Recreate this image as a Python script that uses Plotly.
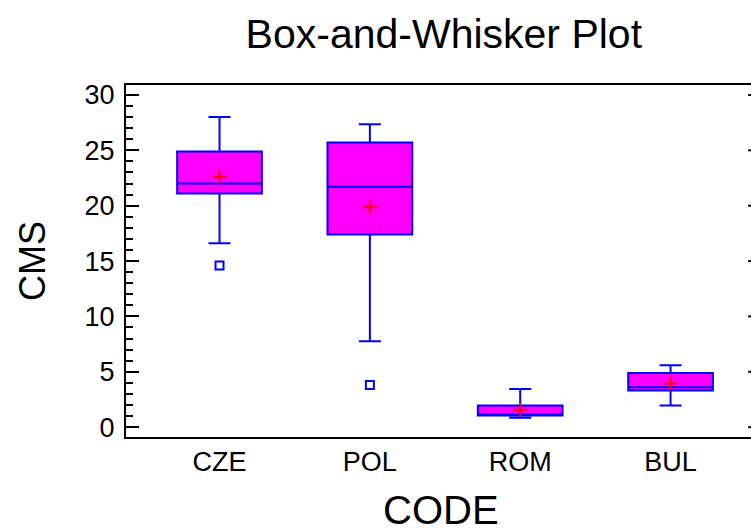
import plotly.graph_objects as go

# Summary statistics of CMS by country code
codes = ["CZE", "POL", "ROM", "BUL"]
q1 = [21.1, 17.4, 1.05, 3.32]
median = [22.0, 21.7, 1.12, 3.6]
q3 = [24.9, 25.7, 1.95, 4.88]
lower_whisker = [16.6, 7.75, 0.85, 1.96]
upper_whisker = [28.0, 27.35, 3.44, 5.58]
means = [22.6, 19.85, 1.57, 3.95]

# Points beyond the whiskers
outlier_codes = ["CZE", "POL"]
outlier_values = [14.6, 3.8]

y_major = [0, 5, 10, 15, 20, 25, 30]

FONT = "Liberation Sans, Arial, sans-serif"

fig = go.Figure()

fig.add_trace(go.Box(
    x=codes,
    q1=q1,
    median=median,
    q3=q3,
    lowerfence=lower_whisker,
    upperfence=upper_whisker,
    boxpoints=False,
    fillcolor="#FF00FF",
    line=dict(color="#0000FF", width=2),
    whiskerwidth=0.26,
    hoverinfo="skip",
    showlegend=False,
))

fig.add_trace(go.Scatter(
    x=codes,
    y=means,
    mode="markers",
    marker=dict(symbol="cross-thin", size=10,
                line=dict(color="#FF0000", width=2)),
    showlegend=False,
))

fig.add_trace(go.Scatter(
    x=outlier_codes,
    y=outlier_values,
    mode="markers",
    marker=dict(symbol="square-open", size=8, color="#0000FF",
                line=dict(color="#0000FF", width=2)),
    showlegend=False,
))

# Short mirrored tick stubs along the right edge of the frame
for v in y_major:
    fig.add_shape(type="line", xref="paper", yref="y",
                  x0=0.9955, x1=1.0, y0=v, y1=v,
                  line=dict(color="black", width=2))

# Horizontal axis title, placed below the category labels
fig.add_annotation(text="CODE", xref="paper", yref="paper",
                   x=0.504, y=-0.206, xanchor="center", yanchor="middle",
                   showarrow=False,
                   font=dict(size=40, family=FONT, color="black"))

fig.update_layout(
    width=751,
    height=532,
    margin=dict(l=126, r=0, t=85, b=95, pad=0, autoexpand=False),
    paper_bgcolor="white",
    plot_bgcolor="white",
    boxgap=0.195,
    font=dict(family=FONT, color="black"),
    title=dict(text="Box-and-Whisker Plot", x=0.591, xanchor="center",
               y=1 - 34 / 532, yref="container", yanchor="middle",
               font=dict(size=41, family=FONT, color="black")),
)

fig.update_xaxes(
    type="category",
    range=[-0.622, 3.535],
    automargin=False,
    showline=True, linecolor="black", linewidth=2, mirror=True,
    ticks="", showgrid=False, zeroline=False,
    tickfont=dict(size=27, family=FONT, color="black"),
)

fig.update_yaxes(
    range=[-0.89, 30.9],
    tickvals=y_major,
    automargin=False,
    showline=True, linecolor="black", linewidth=2, mirror=False,
    ticks="inside", ticklen=13, tickwidth=2, tickcolor="black",
    minor=dict(dtick=1, tick0=0, ticks="inside", ticklen=7, tickwidth=2,
               tickcolor="black", showgrid=False),
    showgrid=False, zeroline=False,
    tickfont=dict(size=27, family=FONT, color="black"),
    ticklabelstandoff=4,
    title=dict(text="CMS", font=dict(size=36, family=FONT, color="black"),
               standoff=28),
)

fig.write_html("out.html")
